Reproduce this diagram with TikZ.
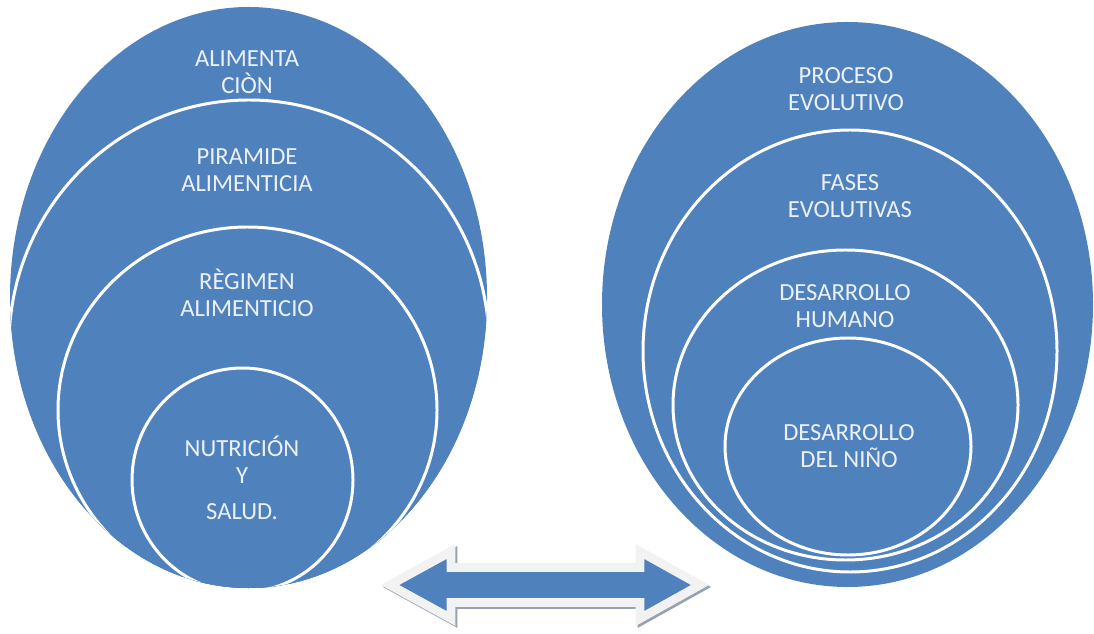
\documentclass[tikz,border=0pt]{standalone}
\usepackage{fontspec}
\setmainfont{Carlito}

\begin{document}
\begin{tikzpicture}
  [x=0.02cm,y=-0.02cm,line join=miter,
   % Styles
   ring/.style={fill=ringcolor,draw=white,line width=1.7pt},
   label text/.style={text=labelcolor,align=center,inner sep=0pt,
     font=\fontsize{14}{15.4}\selectfont},
   block arrow/.style={line width=5pt,miter limit=20}]

  % Colors
  \definecolor{ringcolor}{RGB}{79,129,189}
  \definecolor{labelcolor}{RGB}{236,241,248}
  \definecolor{rimcolor}{RGB}{242,242,242}
  \definecolor{shadowcolor}{RGB}{150,162,180}

  \useasboundingbox (0,0) rectangle (1094,634);

  % Left target
  \fill[ringcolor] (248.5,297.5) ellipse [x radius=238.5, y radius=290.5];
  \begin{scope}
    \clip (248.5,297.5) ellipse [x radius=238.5, y radius=290.5];
    \draw[ring] (249,345) ellipse [x radius=240, y radius=245];
    \draw[ring] (247.5,410) ellipse [x radius=189.5, y radius=183];
    \draw[ring] (242.5,480) ellipse [x radius=110.5, y radius=112];
  \end{scope}

  \node[label text] (alim) at (247,72.5) {ALIMENTA\\CIÒN};
  \node[label text] (piram) at (247,170.5) {PIRAMIDE\\ALIMENTICIA};
  \node[label text] (regim) at (247,292.5) {RÈGIMEN\\ALIMENTICIO};
  \node[label text] (nutri) at (242,478) {NUTRICIÓN\\Y\\[5pt]SALUD.};

  % Right target
  \fill[ringcolor] (847.5,304.5) ellipse [x radius=245.5, y radius=282.5];
  \begin{scope}
    \clip (847.5,304.5) ellipse [x radius=245.5, y radius=282.5];
    \draw[ring] (850,351) ellipse [x radius=207, y radius=221];
    \draw[ring] (845.5,405) ellipse [x radius=172.5, y radius=155];
    \draw[ring] (848,446.5) ellipse [x radius=123, y radius=108.5];
  \end{scope}

  \node[label text] (proc) at (846,89) {PROCESO\\EVOLUTIVO};
  \node[label text] (fases) at (850,196.5) {FASES\\EVOLUTIVAS};
  \node[label text] (human) at (845,306.5) {DESARROLLO\\HUMANO};
  \node[label text] (nino) at (849,446) {DESARROLLO\\DEL NIÑO};

  % Double arrow between the targets
  \foreach \d/\col/\inner in {2/shadowcolor/shadowcolor, 0/rimcolor/ringcolor}
    \draw[block arrow,draw=\col,fill=\inner,shift={(\d,\d)}]
      (390,585) -- (451,551.5) -- (451,567.5) -- (640,567.5) -- (640,551.5)
      -- (700,585) -- (640,618.5) -- (640,602.5) -- (451,602.5)
      -- (451,618.5) -- cycle;
\end{tikzpicture}
\end{document}
